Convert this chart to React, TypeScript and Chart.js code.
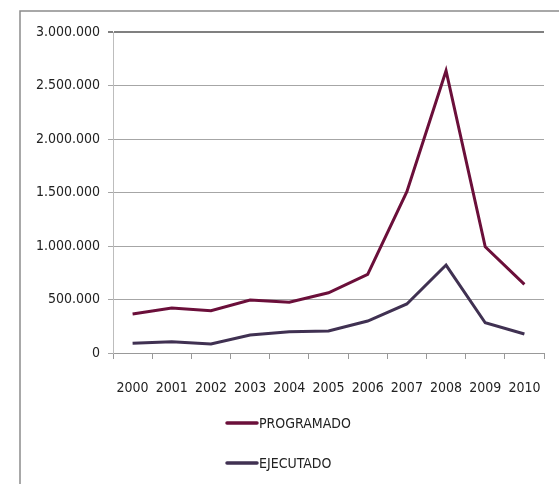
import React, { useEffect, useRef } from "react";
import { Chart, registerables } from "chart.js";

Chart.register(...registerables);

const years = ["2000", "2001", "2002", "2003", "2004", "2005", "2006", "2007", "2008", "2009", "2010"];
const programado = [364000, 420000, 395000, 495000, 475000, 563000, 735000, 1507000, 2638000, 993000, 642000];
const ejecutado = [90000, 106000, 84000, 168000, 199000, 205000, 299000, 458000, 822000, 283000, 178000];
const yTicks = [0, 500000, 1000000, 1500000, 2000000, 2500000, 3000000];

const fmt = (v: number) => String(Math.round(v)).replace(/\B(?=(\d{3})+(?!\d))/g, ".");

const frame = {
  id: "frame",
  beforeDraw(chart: any) {
    const ctx = chart.ctx;
    ctx.save();
    ctx.strokeStyle = "#8c8c8c";
    ctx.lineWidth = 1.5;
    ctx.beginPath();
    ctx.moveTo(20, 484);
    ctx.lineTo(20, 11);
    ctx.lineTo(559, 11);
    ctx.stroke();
    ctx.restore();
  },
};

const legendPlugin = {
  id: "customLegend",
  afterDraw(chart: any) {
    const ctx = chart.ctx;
    ctx.save();
    const ys = [423, 463];
    chart.data.datasets.forEach((ds: any, i: number) => {
      const y = ys[i];
      ctx.strokeStyle = ds.borderColor;
      ctx.lineWidth = 3.5;
      ctx.lineCap = "round";
      ctx.beginPath();
      ctx.moveTo(227, y);
      ctx.lineTo(257, y);
      ctx.stroke();
      ctx.fillStyle = "#222";
      ctx.font = '14px "DejaVu Sans Condensed", sans-serif';
      ctx.textBaseline = "middle";
      ctx.textAlign = "left";
      ctx.fillText(ds.label, 259, y + 1);
    });
    ctx.restore();
  },
};

export default function App() {
  const ref = useRef<HTMLCanvasElement>(null);
  useEffect(() => {
    if (!ref.current) return;
    const chart = new Chart(ref.current, {
      type: "line",
      data: {
        labels: years,
        datasets: [
          {
            label: "PROGRAMADO",
            data: programado,
            borderColor: "#6b0f3a",
            backgroundColor: "#6b0f3a",
            borderWidth: 3,
            pointRadius: 0,
            tension: 0,
          },
          {
            label: "EJECUTADO",
            data: ejecutado,
            borderColor: "#403152",
            backgroundColor: "#403152",
            borderWidth: 3,
            pointRadius: 0,
            tension: 0,
          },
        ],
      },
      options: {
        animation: false,
        responsive: false,
        layout: { padding: { left: 0, top: 32, right: 15, bottom: 0 } },
        plugins: { legend: { display: false }, tooltip: { enabled: false } },
        scales: {
          x: {
            offset: true,
            grid: {
              display: true,
              offset: true,
              drawOnChartArea: false,
              drawTicks: true,
              tickLength: 6,
              color: "#999",
            },
            border: { color: "#999", width: 1 },
            ticks: {
              color: "#222",
              padding: 21,
              maxRotation: 0,
              autoSkip: false,
              font: { family: '"DejaVu Sans Condensed", sans-serif', size: 14 },
            },
            afterFit(scale: any) {
              scale.height = 131;
              scale.paddingLeft = 0;
              scale.paddingRight = 0;
            },
          },
          y: {
            min: 0,
            max: 3000000,
            afterBuildTicks(scale: any) {
              scale.ticks = yTicks.map((v) => ({ value: v }));
            },
            grid: {
              color: (c: any) => (c.tick && c.tick.value === 3000000 ? "#808080" : "#a6a6a6"),
              lineWidth: (c: any) => (c.tick && c.tick.value === 3000000 ? 2 : 1),
              tickLength: 5,
            },
            border: { color: "#bdbdbd", width: 1 },
            ticks: {
              color: "#222",
              padding: 8,
              callback: (v: any) => fmt(Number(v)),
              font: { family: '"DejaVu Sans Condensed", sans-serif', size: 14 },
            },
            afterFit(scale: any) {
              scale.width = 113;
            },
          },
        },
      },
      plugins: [frame, legendPlugin],
    });
    return () => chart.destroy();
  }, []);
  return (
    <div style={{ position: "fixed", left: 0, top: 0, width: 559, height: 484, background: "#fff" }}>
      <canvas ref={ref} width={559} height={484} style={{ width: 559, height: 484 }} />
    </div>
  );
}
